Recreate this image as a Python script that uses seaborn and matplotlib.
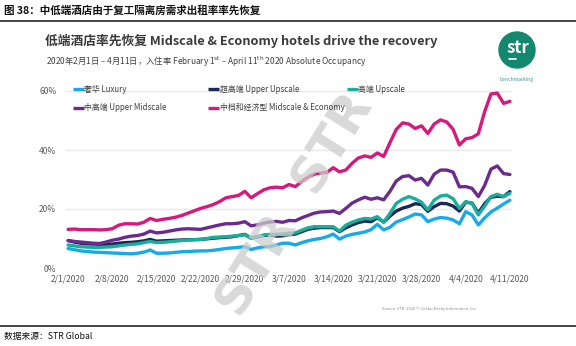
import numpy as np
import pandas as pd
import seaborn as sns
import matplotlib
matplotlib.use("Agg")
import matplotlib.pyplot as plt
from matplotlib.lines import Line2D
from matplotlib.patches import Ellipse

# ---------------- data ----------------
dates = pd.date_range("2020-02-01", "2020-04-11", freq="D")

luxury = [6.6, 6.2, 5.8, 5.6, 5.4, 5.3, 5.2, 5.1, 5.0, 4.9, 4.8, 5.0, 5.4, 6.1, 5.0, 5.0, 5.1, 5.3, 5.5, 5.6,
          5.7, 5.8, 5.8, 6.0, 6.3, 6.6, 6.8, 7.0, 7.2, 6.3, 6.8, 7.2, 7.3, 7.8, 8.4, 8.4, 7.8, 8.6, 9.2, 9.7,
          10.0, 10.6, 11.5, 9.8, 10.8, 11.4, 11.8, 12.2, 13.0, 14.8, 12.9, 13.8, 15.6, 16.4, 17.3, 18.3, 18.0, 15.7, 16.6, 17.1,
          16.9, 16.3, 15.0, 19.1, 18.0, 14.6, 17.0, 19.0, 20.3, 21.7, 23.0]
upper_upscale = [9.3, 8.8, 8.4, 8.2, 8.1, 8.0, 8.0, 8.1, 8.4, 8.6, 8.7, 8.9, 9.2, 9.7, 9.1, 9.2, 9.3, 9.4, 9.5, 9.6,
                 9.6, 9.7, 9.9, 10.1, 10.3, 10.4, 10.6, 11.0, 11.4, 10.1, 10.5, 11.0, 11.2, 10.8, 10.9, 11.3, 11.5, 12.3, 13.1, 13.5,
                 13.7, 13.7, 13.7, 12.3, 13.6, 14.6, 15.4, 15.9, 15.7, 17.0, 15.6, 17.6, 19.3, 20.3, 20.9, 21.8, 21.5, 19.2, 20.8, 21.9,
                 21.8, 21.0, 19.3, 22.3, 22.0, 18.6, 21.8, 24.0, 24.3, 24.2, 25.9]
upscale = [7.8, 7.5, 7.2, 7.1, 7.0, 7.0, 7.1, 7.2, 7.5, 7.8, 8.0, 8.2, 8.6, 9.0, 8.6, 8.7, 8.9, 9.1, 9.3, 9.5,
           9.6, 9.7, 10.0, 10.4, 10.5, 10.6, 10.8, 11.0, 11.3, 10.1, 10.6, 11.2, 11.4, 11.4, 11.5, 11.8, 11.9, 12.8, 13.6, 14.0,
           14.0, 14.0, 14.0, 12.5, 14.5, 15.5, 16.3, 16.8, 16.6, 17.4, 15.5, 18.5, 21.9, 23.3, 24.2, 23.4, 22.3, 19.7, 23.0, 24.4,
           24.7, 23.5, 20.2, 22.5, 21.9, 18.0, 21.0, 24.2, 25.0, 24.2, 25.3]
upper_midscale = [9.3, 9.0, 8.8, 8.6, 8.4, 8.3, 8.8, 9.4, 9.8, 10.4, 10.8, 11.0, 11.5, 12.5, 11.9, 12.1, 12.5, 12.9, 13.2, 13.3,
                  13.2, 13.1, 13.6, 14.1, 14.6, 15.0, 15.0, 15.2, 15.7, 14.3, 14.6, 15.2, 15.6, 15.8, 15.5, 16.1, 16.0, 17.0, 17.8, 18.6,
                  19.0, 19.1, 19.3, 18.5, 20.2, 22.0, 23.1, 24.0, 23.3, 23.8, 23.1, 26.0, 29.5, 31.0, 31.3, 29.8, 30.4, 28.1, 31.8, 33.2,
                  33.2, 32.5, 27.5, 27.6, 27.0, 24.2, 28.0, 33.5, 34.6, 32.0, 31.7]
midscale_economy = [13.1, 13.2, 13.0, 13.0, 13.0, 12.9, 13.0, 13.3, 14.5, 15.0, 15.0, 14.9, 15.5, 16.8, 16.1, 16.5, 16.8, 17.2, 17.8, 18.6,
                    19.4, 20.2, 20.8, 21.5, 22.5, 23.8, 24.2, 24.6, 26.0, 23.8, 25.2, 26.5, 27.2, 27.4, 27.2, 28.3, 27.6, 29.3, 30.8, 31.8,
                    32.2, 32.4, 34.0, 32.6, 33.2, 35.5, 37.3, 38.0, 37.5, 39.0, 37.8, 42.5, 47.0, 49.2, 48.8, 47.3, 48.2, 45.6, 48.8, 50.2,
                    49.5, 47.0, 41.7, 43.8, 44.2, 45.5, 53.0, 59.0, 59.3, 55.8, 56.5]

series_names = ["奢华 Luxury", "超高端 Upper Upscale", "高端 Upscale",
                "中高端 Upper Midscale", "中档和经济型 Midscale & Economy"]
series_colors = ["#17aae9", "#1b2858", "#17ae9b", "#6b2a8e", "#d6197d"]
x_tick_labels = ["2/1/2020", "2/8/2020", "2/15/2020", "2/22/2020", "2/29/2020", "3/7/2020",
                 "3/14/2020", "3/21/2020", "3/28/2020", "4/4/2020", "4/11/2020"]
y_ticks = [0, 20, 40, 60]
y_tick_labels = ["0%", "20%", "40%", "60%"]

wide = pd.DataFrame({
    "date": dates,
    series_names[0]: luxury,
    series_names[1]: upper_upscale,
    series_names[2]: upscale,
    series_names[3]: upper_midscale,
    series_names[4]: midscale_economy,
})
long = wide.melt(id_vars="date", var_name="series", value_name="value")

# ---------------- style ----------------
sns.set_theme(style="white")
plt.rcParams["font.family"] = ["Noto Sans CJK SC", "DejaVu Sans"]

W, H = 576, 346
fig = plt.figure(figsize=(W / 100, H / 100), dpi=100)
fig.patch.set_facecolor("white")

def fx(x):
    return x / W

def fy(y):
    return 1 - y / H

ax = fig.add_axes([fx(66), fy(268), 446 / W, 177 / H])
ax.set_facecolor("white")

# watermark (behind lines)
fig.text(fx(295), fy(205), "STR  STR", fontsize=36, fontweight="bold", color="#cccccc",
         alpha=0.75, rotation=58, ha="center", va="center", family="DejaVu Sans", zorder=0.5)

sns.lineplot(data=long, x="date", y="value", hue="series", hue_order=series_names,
             palette=series_colors, linewidth=2.4, legend=False, ax=ax, zorder=3)
for ln in ax.lines:
    ln.set_clip_on(False)
    ln.set_solid_joinstyle("round")
    ln.set_solid_capstyle("round")

ax.set_ylim(0, 60)
ax.set_xlim(dates[0] - pd.Timedelta(hours=8), dates[-1] + pd.Timedelta(hours=8))
ax.set_yticks(y_ticks)
ax.set_yticklabels(y_tick_labels)
tick_dates = dates[::7]
ax.set_xticks(tick_dates)
ax.set_xticklabels(x_tick_labels)
ax.set_xlabel("")
ax.set_ylabel("")
for s in ax.spines.values():
    s.set_visible(False)
ax.yaxis.grid(True, color="#e9e9e9", linewidth=1.0)
ax.xaxis.grid(False)
ax.set_axisbelow(True)
ax.tick_params(axis="both", length=0, labelsize=6.1, colors="#595959")
ax.tick_params(axis="y", pad=7)
ax.tick_params(axis="x", pad=5)
ax.patch.set_alpha(0)

# ---------------- legend (manual placement) ----------------
leg_pos = [(73, 89), (208, 89), (347, 89), (73, 107.5), (208, 107.5)]
for (lx, ly), name, col in zip(leg_pos, series_names, series_colors):
    fig.add_artist(Line2D([fx(lx), fx(lx + 11)], [fy(ly), fy(ly)], color=col, lw=2.4,
                          solid_capstyle="butt"))
    fig.text(fx(lx + 11.5), fy(ly), name, fontsize=5.7, color="#404040", va="center", ha="left")

# ---------------- titles ----------------
fig.text(fx(4), fy(10), "图 38：中低端酒店由于复工隔离房需求出租率率先恢复", fontsize=7.6,
         fontweight="bold", color="#111111", va="center", ha="left")
fig.add_artist(Line2D([0, 1], [fy(21), fy(21)], color="#444444", lw=1.4))

fig.text(fx(45), fy(41), "低端酒店率先恢复 Midscale & Economy hotels drive the recovery",
         fontsize=9.2, fontweight="bold", color="#3a3a3a", va="center", ha="left")
fig.text(fx(46), fy(62),
         r"2020年2月1日 – 4月11日，入住率 February 1$^{\mathrm{st}}$ – April 11$^{\mathrm{th}}$ 2020 Absolute Occupancy",
         fontsize=6.0, color="#404040", va="center", ha="left")

# logo
fig.add_artist(Ellipse((fx(517), fy(50)), 36 / W, 36 / H, color="#14876f"))
fig.text(fx(518), fy(48), "str", fontsize=12, color="white", fontweight="bold",
         ha="center", va="center")
fig.add_artist(Line2D([fx(509), fx(516)], [fy(59), fy(59)], color="white", lw=1.2))
fig.text(fx(517), fy(79), "benchmarking", fontsize=3.6, color="#3c9a86", ha="center", va="center")

# source note
fig.text(fx(477), fy(309), "Source: STR. 2020 © CoStar Realty Information, Inc.",
         fontsize=2.8, color="#8a8a8a", ha="right", va="center")

# bottom
fig.add_artist(Line2D([0, 1], [fy(326), fy(326)], color="#444444", lw=1.4))
fig.text(fx(4), fy(337), "数据来源：STR Global", fontsize=6.3, color="#111111",
         va="center", ha="left")

fig.savefig("out.png", dpi=100, facecolor="white")
